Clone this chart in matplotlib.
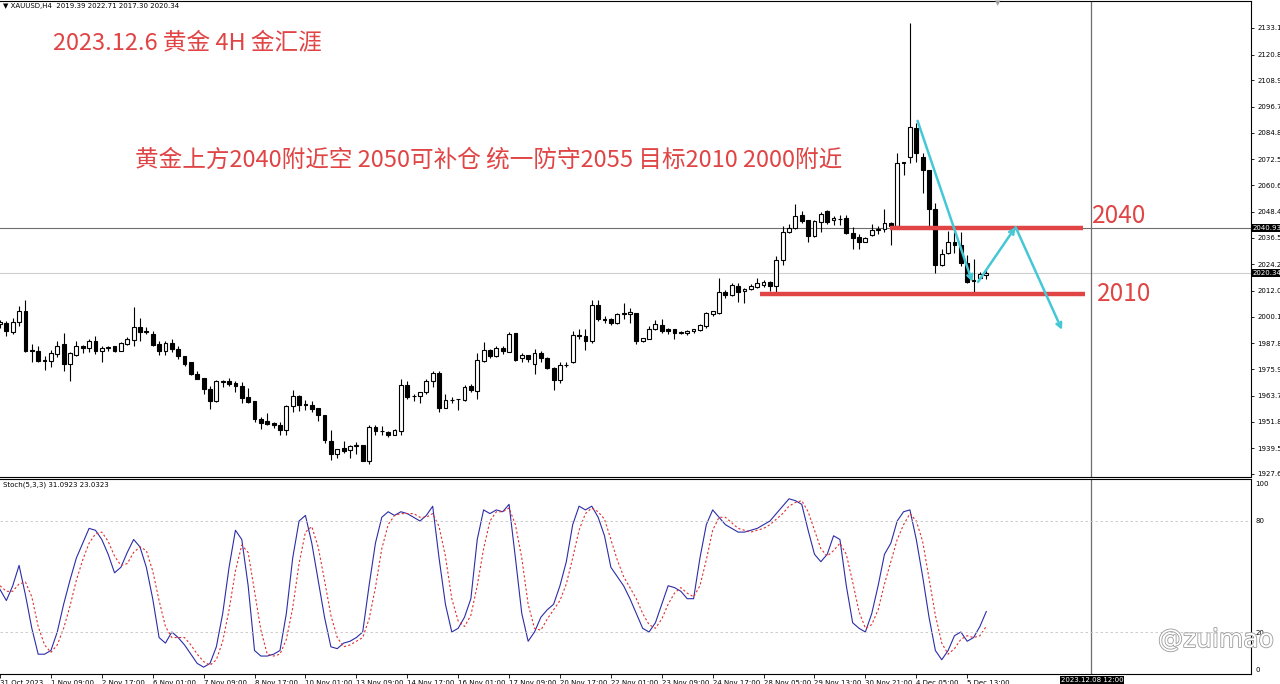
import matplotlib
matplotlib.use("Agg")
import matplotlib.pyplot as plt
import matplotlib.patheffects as pe
import numpy as np

# XAUUSD H4 candles (bar 0 = 31 Oct 01:00)
opens = [1996.5, 1997.0, 1993.0, 1997.8, 2002.9, 1984.9, 1984.1, 1980.2, 1979.6, 1983.1,
         1987.4, 1978.1, 1982.6, 1986.7, 1985.6, 1988.7, 1984.4, 1985.8, 1986.4, 1984.4,
         1987.7, 1989.4, 1995.5, 1993.5, 1992.0, 1987.4, 1984.4, 1987.9, 1985.2, 1981.8,
         1979.1, 1973.8, 1971.8, 1967.0, 1961.4, 1970.0, 1970.3, 1969.6, 1968.2, 1962.9,
         1961.2, 1953.0, 1952.1, 1951.1, 1950.3, 1947.8, 1959.1, 1963.7, 1959.5, 1959.4,
         1957.9, 1954.6, 1942.8, 1937.0, 1939.7, 1938.9, 1940.5, 1940.8, 1933.7, 1949.3,
         1947.4, 1946.8, 1945.8, 1947.6, 1968.5, 1963.4, 1963.7, 1965.2, 1970.3, 1974.3,
         1958.2, 1961.5, 1962.0, 1961.7, 1968.1, 1965.9, 1979.9, 1984.9, 1981.9, 1985.6,
         1984.0, 1992.5, 1980.9, 1982.5, 1978.4, 1983.4, 1981.1, 1976.4, 1970.8, 1977.7,
         1979.4, 1991.3, 1991.2, 1989.0, 2005.6, 1998.9, 1998.8, 1997.0, 2001.4, 2001.4,
         2001.8, 1988.7, 1990.0, 1994.3, 1996.1, 1994.6, 1994.3, 1992.6, 1992.8, 1993.3,
         1994.0, 1996.0, 2001.5, 2001.8, 2011.4, 2009.9, 2014.4, 2011.7, 2012.9, 2013.9,
         2014.7, 2015.9, 2014.4, 2026.1, 2038.9, 2040.8, 2046.8, 2044.7, 2037.1, 2043.8,
         2048.8, 2044.7, 2045.3, 2045.7, 2038.6, 2036.7, 2034.7, 2037.5, 2040.0, 2040.5,
         2043.2, 2042.0, 2071.1, 2073.8, 2087.1, 2073.8, 2067.5, 2049.9, 2024.1, 2029.6,
         2034.7, 2032.9, 2025.0, 2016.5, 2018.0, 2019.39]
highs = [1998.5, 1998.1, 1999.3, 2005.2, 2007.9, 1987.4, 1986.4, 1982.1, 1984.7, 1989.0,
         1992.5, 1983.6, 1988.7, 1986.9, 1990.0, 1991.2, 1986.4, 1986.7, 1986.7, 1988.5,
         1990.8, 2004.6, 1999.3, 1995.5, 1993.5, 1989.0, 1989.0, 1989.7, 1986.4, 1982.2,
         1979.3, 1974.9, 1971.9, 1968.1, 1970.8, 1970.8, 1971.9, 1970.3, 1970.0, 1967.3,
         1961.3, 1953.7, 1955.6, 1951.8, 1951.4, 1959.4, 1966.5, 1963.8, 1961.7, 1961.2,
         1958.2, 1954.9, 1948.1, 1939.0, 1942.8, 1941.2, 1942.4, 1941.0, 1950.0, 1950.0,
         1949.6, 1947.3, 1948.5, 1971.2, 1970.3, 1964.7, 1965.5, 1971.2, 1975.3, 1975.3,
         1964.7, 1963.2, 1962.3, 1968.5, 1969.3, 1983.4, 1988.5, 1985.2, 1986.7, 1986.7,
         1993.1, 1992.6, 1983.4, 1982.6, 1985.2, 1984.4, 1981.4, 1976.8, 1979.4, 1979.1,
         1993.5, 1994.6, 1994.6, 2007.6, 2007.6, 2000.3, 1999.6, 2001.8, 2006.4, 2004.1,
         2001.9, 1990.5, 1995.8, 1998.5, 1998.8, 1995.0, 1994.6, 1993.5, 1993.8, 1994.5,
         1996.8, 2002.4, 2002.9, 2018.0, 2012.4, 2015.5, 2015.5, 2013.2, 2015.0, 2018.0,
         2017.0, 2016.5, 2028.0, 2042.0, 2042.7, 2051.8, 2048.8, 2044.8, 2044.7, 2048.3,
         2049.2, 2046.5, 2046.8, 2046.8, 2041.5, 2038.2, 2036.7, 2042.8, 2042.0, 2049.6,
         2043.5, 2075.6, 2071.5, 2135.5, 2089.3, 2075.3, 2067.6, 2052.3, 2031.4, 2039.7,
         2039.0, 2039.0, 2028.4, 2026.5, 2020.8, 2022.71]
lows = [1995.0, 1991.2, 1992.0, 1995.8, 1983.7, 1979.4, 1979.1, 1975.6, 1977.1, 1981.7,
        1975.0, 1970.5, 1981.8, 1983.4, 1983.7, 1982.9, 1979.4, 1984.4, 1983.7, 1984.1,
        1987.0, 1986.4, 1989.0, 1992.0, 1986.7, 1982.4, 1982.4, 1983.7, 1980.6, 1977.6,
        1973.3, 1971.2, 1964.7, 1957.5, 1961.0, 1967.8, 1968.1, 1965.5, 1960.2, 1960.5,
        1951.8, 1948.5, 1950.0, 1948.8, 1945.5, 1945.5, 1956.4, 1956.8, 1957.2, 1956.1,
        1952.2, 1942.0, 1934.0, 1935.2, 1937.5, 1935.2, 1936.7, 1933.4, 1932.4, 1945.8,
        1945.5, 1944.6, 1945.5, 1945.5, 1962.2, 1961.2, 1960.2, 1964.7, 1967.8, 1956.1,
        1957.9, 1960.2, 1957.2, 1961.2, 1965.5, 1962.4, 1979.4, 1981.0, 1981.4, 1982.9,
        1983.7, 1979.9, 1979.1, 1979.4, 1973.8, 1979.4, 1975.8, 1966.2, 1969.7, 1976.8,
        1978.8, 1990.0, 1984.9, 1987.9, 1998.1, 1997.3, 1996.1, 1996.5, 1999.1, 1997.0,
        1987.5, 1988.5, 1989.7, 1994.0, 1992.8, 1992.3, 1990.0, 1992.0, 1991.8, 1992.5,
        1993.4, 1995.0, 2000.6, 2001.4, 2008.9, 2009.4, 2006.8, 2006.4, 2012.4, 2013.2,
        2013.9, 2012.0, 2010.9, 2023.8, 2038.6, 2040.5, 2043.2, 2034.7, 2036.7, 2039.2,
        2042.7, 2042.3, 2042.3, 2038.2, 2031.1, 2031.4, 2034.4, 2037.2, 2038.2, 2039.3,
        2033.2, 2041.7, 2065.5, 2070.8, 2071.5, 2057.1, 2041.7, 2020.0, 2023.5, 2029.1,
        2029.6, 2023.5, 2015.5, 2011.0, 2017.4, 2017.30]
closes = [1997.5, 1993.5, 1997.8, 2002.9, 1984.4, 1984.5, 1979.9, 1979.7, 1983.4, 1986.4,
          1978.1, 1983.4, 1986.4, 1985.6, 1988.7, 1984.4, 1985.6, 1986.0, 1984.1, 1987.9,
          1989.7, 1995.5, 1993.1, 1993.0, 1987.2, 1984.4, 1987.9, 1985.0, 1981.8, 1978.1,
          1973.5, 1971.5, 1966.7, 1961.4, 1970.3, 1970.2, 1969.3, 1968.1, 1962.5, 1961.0,
          1952.9, 1951.1, 1950.6, 1950.0, 1948.0, 1959.1, 1963.7, 1959.4, 1959.4, 1957.6,
          1954.9, 1943.5, 1936.7, 1939.0, 1938.2, 1940.5, 1940.9, 1933.7, 1949.1, 1947.6,
          1947.3, 1945.5, 1948.1, 1968.8, 1962.9, 1963.5, 1965.2, 1970.5, 1974.3, 1958.2,
          1961.7, 1961.7, 1962.1, 1967.8, 1966.2, 1980.3, 1984.9, 1981.9, 1985.6, 1984.1,
          1992.0, 1980.3, 1982.5, 1980.6, 1983.4, 1980.9, 1976.4, 1970.8, 1977.9, 1978.0,
          1991.5, 1991.2, 1989.0, 2005.6, 1998.8, 1998.7, 1997.0, 2001.1, 2001.6, 2002.3,
          1989.0, 1990.2, 1994.6, 1996.5, 1993.5, 1993.5, 1992.5, 1992.8, 1993.4, 1994.2,
          1996.2, 2001.8, 2002.8, 2011.4, 2009.9, 2014.7, 2011.4, 2012.9, 2014.4, 2015.4,
          2015.9, 2014.4, 2026.1, 2038.9, 2040.8, 2046.5, 2044.2, 2037.1, 2044.2, 2047.3,
          2043.5, 2045.7, 2045.0, 2038.6, 2036.2, 2034.7, 2036.2, 2040.0, 2040.1, 2043.2,
          2042.0, 2071.1, 2071.3, 2087.5, 2075.6, 2067.5, 2049.9, 2024.1, 2029.1, 2034.4,
          2032.9, 2025.0, 2016.2, 2016.9, 2019.6, 2020.34]

# Stoch(5,3,3) main (%K) and signal (%D)
stoch_k = [43, 37, 45, 56, 40, 22, 8, 8, 10, 20,
           35, 48, 60, 68, 76, 75, 70, 62, 52, 55,
           63, 70, 66, 55, 38, 17, 14, 20, 17, 13,
           8, 3, 1, 3, 12, 30, 55, 75, 70, 45,
           10, 7, 7, 8, 10, 30, 60, 80, 83, 68,
           48, 28, 12, 11, 14, 15, 17, 20, 45, 68,
           82, 85, 83, 85, 84, 82, 80, 83, 88, 60,
           35, 20, 22, 28, 38, 70, 86, 84, 86, 85,
           89, 60, 30, 15, 20, 28, 32, 35, 45, 58,
           78, 88, 86, 88, 82, 72, 55, 50, 45, 38,
           30, 22, 20, 25, 35, 45, 44, 42, 38, 38,
           60, 78, 86, 82, 78, 76, 74, 74, 75, 76,
           78, 80, 84, 88, 92, 91, 89, 75, 62, 58,
           62, 72, 70, 45, 25, 22, 20, 30, 45, 62,
           68, 80, 85, 86, 70, 50, 28, 10, 5, 10,
           18, 20, 15, 17, 23, 31.09]
stoch_d = [45, 42, 42, 46, 47, 39, 23, 13, 9, 13,
           22, 34, 48, 59, 68, 73, 74, 69, 61, 56,
           57, 63, 66, 64, 53, 37, 23, 17, 17, 17,
           13, 8, 4, 2, 5, 15, 32, 53, 67, 63,
           42, 21, 8, 7, 8, 16, 33, 57, 74, 77,
           66, 48, 29, 17, 12, 13, 15, 17, 27, 44,
           65, 78, 83, 84, 84, 84, 82, 82, 84, 77,
           61, 38, 26, 23, 29, 45, 65, 80, 85, 85,
           87, 78, 60, 35, 22, 21, 27, 32, 37, 46,
           60, 75, 84, 87, 85, 81, 70, 59, 50, 44,
           38, 30, 24, 22, 27, 35, 41, 44, 41, 39,
           45, 59, 75, 82, 82, 79, 76, 75, 74, 75,
           76, 78, 81, 84, 88, 90, 91, 85, 75, 65,
           61, 64, 68, 62, 47, 31, 22, 24, 32, 46,
           58, 70, 78, 84, 80, 69, 49, 29, 14, 8,
           11, 16, 18, 17, 18, 23.03]

date_labels = ["31 Oct 2023", "1 Nov 09:00", "2 Nov 17:00", "6 Nov 01:00", "7 Nov 09:00",
               "8 Nov 17:00", "10 Nov 01:00", "13 Nov 09:00", "14 Nov 17:00", "16 Nov 01:00",
               "17 Nov 09:00", "20 Nov 17:00", "22 Nov 01:00", "23 Nov 09:00", "24 Nov 17:00",
               "28 Nov 05:00", "29 Nov 13:00", "30 Nov 21:00", "4 Dec 05:00", "5 Dec 13:00"]
price_ticks = [2133.10, 2120.85, 2108.95, 2096.70, 2084.80, 2072.55, 2060.65, 2048.40, 2036.50,
               2024.25, 2012.00, 2000.10, 1987.85, 1975.95, 1963.70, 1951.80, 1939.55, 1927.65]

level_prices = [2041.0, 2010.6]
level_names = ["2040", "2010"]
level_start = [139.9, 119.5]
level_end = [170.2, 170.5]

# hand-drawn cyan arrows (bar, price)
arrow_from = [(144.2, 2090.3), (153.7, 2016.1), (159.6, 2041.4)]
arrow_to = [(152.8, 2016.1), (159.6, 2041.4), (166.9, 1994.0)]

cross_price = 2040.93
last_price = 2020.34
cross_bar = 171.5

W, H = 1280, 684
RED = "#e04444"
CYAN = "#45c8d6"
cjk = ["Noto Sans CJK SC", "DejaVu Sans"]


def fx(px):
    return px / W


def fy(py):
    return 1 - py / H


fig = plt.figure(figsize=(W / 100, H / 100), dpi=100)
ax = fig.add_axes([0, fy(477), fx(1251), fy(1) - fy(477)])
ax2 = fig.add_axes([0, fy(674), fx(1251), fy(479) - fy(674)], sharex=ax)

o = np.array(opens)
h = np.array(highs)
l = np.array(lows)
c = np.array(closes)
x = np.arange(len(c))
up = c >= o

ax.vlines(x, l, h, color="black", lw=0.8, zorder=2)
body_low = np.minimum(o, c)
body_h = np.maximum(np.abs(c - o), 0.3)
ax.bar(x, body_h, bottom=body_low, width=0.6,
       color=np.where(up, "white", "black"), edgecolor="black", linewidth=0.8, zorder=3)

ax.axhline(cross_price, color="#6e6e6e", lw=0.8, zorder=1)
ax.axhline(last_price, color="#cfcfcf", lw=0.8, zorder=1)
ax.axvline(cross_bar, color="#6e6e6e", lw=0.9, zorder=1)
ax2.axvline(cross_bar, color="#6e6e6e", lw=0.9, zorder=1)

for p, a, b in zip(level_prices, level_start, level_end):
    ax.hlines(p, a, b, color=RED, lw=3.2, zorder=4)

for (x0, y0), (x1, y1) in zip(arrow_from, arrow_to):
    ax.annotate("", xy=(x1, y1), xytext=(x0, y0),
                arrowprops=dict(arrowstyle="->", color=CYAN, lw=1.8,
                                mutation_scale=9, shrinkA=0, shrinkB=0), zorder=5)

ax.set_xlim(0.1, 196.6)
ax.set_ylim(1926.25, 2145.5)
ax.set_yticks(price_ticks)
ax.set_yticklabels(["%.2f" % v for v in price_ticks])
ax.yaxis.tick_right()
ax.tick_params(axis="y", labelsize=5, length=2.5, pad=2, width=0.6)
ax.tick_params(axis="x", bottom=False, labelbottom=False)

ax2.plot(x, stoch_k, color="#2c2ca8", lw=0.8)
ax2.plot(x, stoch_d, color="#e03030", lw=0.8, ls=(0, (2, 2)))
for lv in (80, 20):
    ax2.axhline(lv, color="#c4c4c4", lw=0.6, ls=(0, (3, 3)))
ax2.set_ylim(-2.7, 102.7)
ax2.set_yticks([100, 80, 20, 0])
ax2.set_yticklabels(["100", "80", "20", "0"])
ax2.yaxis.tick_right()
ax2.tick_params(axis="y", labelsize=5, length=0, pad=3)
ax2.set_xticks(x[::8][:len(date_labels)])
ax2.set_xticklabels(date_labels, ha="left")
ax2.tick_params(axis="x", labelsize=5, length=3, pad=1, width=0.6)

for a in (ax, ax2):
    a.set_facecolor("white")
    a.spines["left"].set_visible(False)
    for s in ("top", "right", "bottom"):
        a.spines[s].set_linewidth(0.8)
        a.spines[s].set_color("black")

# texts
fig.text(fx(3), fy(6), "\u25bc XAUUSD,H4  2019.39 2022.71 2017.30 2020.34",
         fontsize=5, va="center", ha="left")
fig.text(fx(3), fy(485), "Stoch(5,3,3) 31.0923 23.0323", fontsize=5, va="center", ha="left")
fig.text(fx(998), fy(3), "\u25bc", fontsize=5, color="#a0a0a0", va="center", ha="center")

fig.text(fx(53), fy(43), "2023.12.6 黄金 4H 金汇涯", family=cjk, fontsize=17,
         color=RED, va="center", ha="left")
fig.text(fx(135), fy(160), "黄金上方2040附近空 2050可补仓 统一防守2055 目标2010 2000附近",
         family=cjk, fontsize=17, color=RED, va="center", ha="left")
for p, name, px in zip(level_prices, level_names, [1092, 1097]):
    ypx = 28 + (2133.10 - p) / 0.46065
    fig.text(fx(px), fy(ypx - 12 if name == "2040" else ypx), name, family=cjk,
             fontsize=17.5, color=RED, va="center", ha="left")

box = dict(facecolor="black", edgecolor="none", pad=0.6)
for p in (cross_price, last_price):
    ypx = 28 + (2133.10 - p) / 0.46065
    fig.text(fx(1252.5), fy(ypx), "%.2f" % p, fontsize=5, color="white",
             va="center", ha="left", bbox=box)
fig.text(fx(1061), fy(680), "2023.12.08 12:00", fontsize=5, color="white",
         va="center", ha="left", bbox=box)

fig.text(fx(1158), fy(640), "@zuimao", fontsize=18, color="white", va="center", ha="left",
         path_effects=[pe.withStroke(linewidth=1.2, foreground="#9a9a9a")])

fig.savefig("out.png", dpi=100)
